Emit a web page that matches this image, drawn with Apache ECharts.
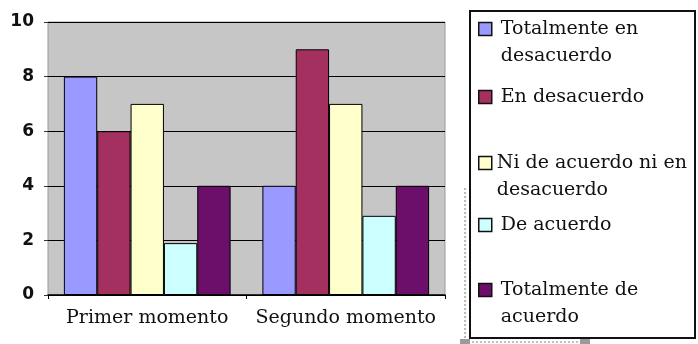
<!DOCTYPE html>
<html>
<head>
<meta charset="utf-8">
<script src="https://cdn.jsdelivr.net/npm/echarts@6/dist/echarts.min.js"></script>
<style>
  html, body { margin: 0; padding: 0; background: #ffffff; }
  #chart { width: 698px; height: 344px; }
</style>
</head>
<body>
<div id="chart"></div>
<script>
// Survey answers per moment
const categories = ['Primer momento', 'Segundo momento'];
const seriesNames = [
  'Totalmente en desacuerdo',
  'En desacuerdo',
  'Ni de acuerdo ni en desacuerdo',
  'De acuerdo',
  'Totalmente de acuerdo'
];
const totalmenteDesacuerdo = [8, 4];
const enDesacuerdo = [6, 9];
const niDeAcuerdo = [7, 7];
const deAcuerdo = [1.9, 2.9];
const totalmenteAcuerdo = [4, 4];
const yTicks = [0, 2, 4, 6, 8, 10];

// Legend text split over lines as shown in the key box
const legendLabels = {
  'Totalmente en desacuerdo': '\nTotalmente en\ndesacuerdo',
  'En desacuerdo': 'En desacuerdo',
  'Ni de acuerdo ni en desacuerdo': '\nNi de acuerdo ni en\ndesacuerdo',
  'De acuerdo': 'De acuerdo',
  'Totalmente de acuerdo': '\nTotalmente de\nacuerdo'
};

const colors = ['#9999ff', '#a3305f', '#ffffcc', '#ccffff', '#6b0f6b'];
const values = [totalmenteDesacuerdo, enDesacuerdo, niDeAcuerdo, deAcuerdo, totalmenteAcuerdo];

const serifFont = 'DejaVu Serif';
const LINE_H = 27;

// icon centre y for each legend entry
const iconCenters = [29, 97, 163, 225, 290];

const legends = seriesNames.map(function (name, i) {
  const multi = legendLabels[name].indexOf('\n') === 0;
  const top = multi ? iconCenters[i] - LINE_H * 1.5 : iconCenters[i] - LINE_H / 2;
  return {
    data: [name],
    orient: 'vertical',
    left: 478,
    top: top,
    padding: 0,
    itemWidth: 13,
    itemHeight: 13,
    icon: 'rect',
    itemStyle: { borderColor: '#111111', borderWidth: 1.5 },
    formatter: function (n) { return legendLabels[n]; },
    textStyle: {
      fontFamily: serifFont,
      fontSize: 19,
      color: '#111111',
      lineHeight: LINE_H,
      padding: [0, 0, 0, i === 2 ? 0 : 4]
    },
    selectedMode: false
  };
});

const chart = echarts.init(document.getElementById('chart'), null, { renderer: 'canvas' });

chart.setOption({
  animation: false,
  backgroundColor: '#ffffff',
  color: colors,
  grid: {
    left: 48,
    right: 253,
    top: 22,
    bottom: 49,
    show: true,
    backgroundColor: '#c6c6c6',
    borderColor: '#9a9a9a',
    borderWidth: 1
  },
  legend: legends,
  xAxis: {
    type: 'category',
    data: categories,
    axisLine: { show: true, lineStyle: { color: '#000000', width: 1.5 } },
    axisTick: { show: true, length: 4, lineStyle: { color: '#000000' } },
    axisLabel: {
      interval: 0,
      hideOverlap: false,
      fontFamily: serifFont,
      fontSize: 19,
      color: '#111111',
      margin: 14
    }
  },
  yAxis: {
    type: 'value',
    min: yTicks[0],
    max: yTicks[yTicks.length - 1],
    interval: 2,
    axisLine: { show: false },
    axisTick: { show: true, length: 4, lineStyle: { color: '#333333' } },
    axisLabel: {
      fontFamily: 'DejaVu Sans',
      fontWeight: 'bold',
      fontSize: 17,
      color: '#111111',
      margin: 14
    },
    splitLine: { show: true, lineStyle: { color: '#000000', width: 1 } }
  },
  series: seriesNames.map(function (name, i) {
    return {
      name: name,
      type: 'bar',
      data: values[i],
      barGap: '0%',
      barCategoryGap: '16%',
      itemStyle: { color: colors[i], borderColor: '#000000', borderWidth: 1 }
    };
  }),
  graphic: [
    {
      // key box frame
      type: 'rect',
      shape: { x: 470, y: 11, width: 225, height: 327 },
      style: { fill: null, stroke: '#111111', lineWidth: 2 },
      z: 100
    },
    {
      type: 'line',
      shape: { x1: 465, y1: 188, x2: 465, y2: 344 },
      style: { stroke: '#777777', lineWidth: 1, lineDash: [2, 2] },
      z: 100
    },
    {
      type: 'line',
      shape: { x1: 460, y1: 342, x2: 590, y2: 342 },
      style: { stroke: '#888888', lineWidth: 1, lineDash: [2, 2] },
      z: 100
    },
    {
      type: 'rect',
      shape: { x: 460, y: 339, width: 10, height: 5 },
      style: { fill: '#9a9a9a' },
      z: 100
    },
    {
      type: 'rect',
      shape: { x: 580, y: 339, width: 10, height: 5 },
      style: { fill: '#9a9a9a' },
      z: 100
    }
  ]
});
</script>
</body>
</html>
